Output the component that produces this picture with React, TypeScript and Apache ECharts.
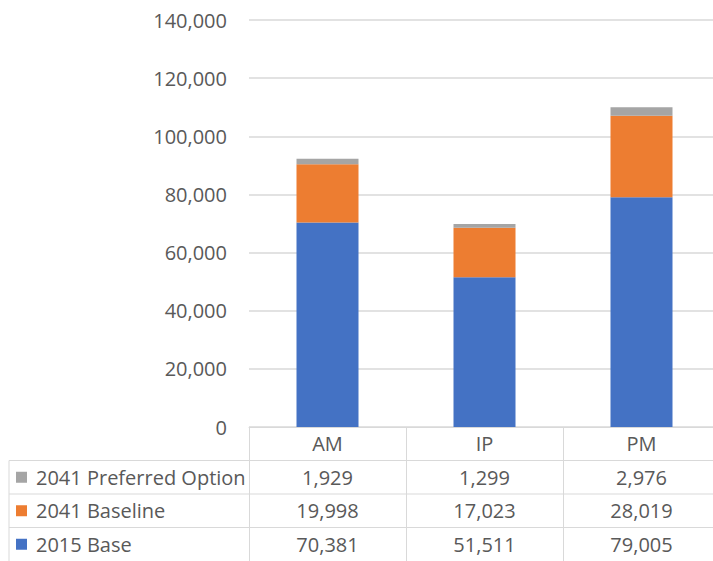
import React, { useEffect, useRef } from "react";
import * as echarts from "echarts";

const categories = ["AM", "IP", "PM"];
const seriesNames = ["2015 Base", "2041 Baseline", "2041 Preferred Option"];
const base2015 = [70381, 51511, 79005];
const baseline2041 = [19998, 17023, 28019];
const preferred2041 = [1929, 1299, 2976];
const seriesColors = ["#4472C4", "#ED7D31", "#A5A5A5"];
const yTicks = [0, 20000, 40000, 60000, 80000, 100000, 120000, 140000];

const FONT = "'Open Sans', sans-serif";
const FS = 20;
const TEXT = "#595959";
const LINE = "#D9D9D9";

const fmt = (v: number) => v.toLocaleString("en-US");

export default function App() {
  const ref = useRef<HTMLDivElement>(null);
  useEffect(() => {
    if (!ref.current) return;
    const chart = echarts.init(ref.current, undefined, { renderer: "svg" });
    const values = [base2015, baseline2041, preferred2041];
    // table rows: top to bottom = reverse order of stacking
    const rowOrder = [2, 1, 0];
    const gridTop = 20;
    const gridBottomY = 427;
    const rowH = 33.5;
    const tableLeft = 9;
    const gridLeft = 249;
    const gridWidth = 471;
    const tableRight = gridLeft + gridWidth;

    const xAxes: any[] = [
      {
        type: "category",
        data: categories,
        position: "bottom",
        axisLine: { show: true, lineStyle: { color: LINE, width: 1 } },
        axisTick: { show: true, length: 134, lineStyle: { color: LINE, width: 1 } },
        axisLabel: {
          color: TEXT,
          fontFamily: FONT,
          fontSize: FS,
          margin: rowH / 2,
          verticalAlign: "middle",
        },
        splitLine: { show: false },
      },
    ];
    rowOrder.forEach((si, r) => {
      xAxes.push({
        type: "category",
        data: categories,
        position: "bottom",
        offset: rowH * (r + 1),
        axisLine: { show: false },
        axisTick: { show: false },
        axisLabel: {
          color: TEXT,
          fontFamily: FONT,
          fontSize: FS,
          margin: rowH / 2,
          verticalAlign: "middle",
          formatter: (_v: string, idx: number) => fmt(values[si][idx]),
        },
      });
    });

    const graphic: any[] = [];
    rowOrder.forEach((si, r) => {
      const y = gridBottomY + rowH * (r + 1);
      graphic.push({
        type: "line",
        shape: { x1: tableLeft, y1: y, x2: tableRight, y2: y },
        style: { stroke: LINE, lineWidth: 1 },
        silent: true,
      });
      const cy = y + rowH / 2;
      graphic.push({
        type: "rect",
        shape: { x: 16, y: cy - 5.5, width: 11, height: 11 },
        style: { fill: seriesColors[si] },
        silent: true,
      });
      graphic.push({
        type: "text",
        x: 36,
        y: cy,
        style: {
          text: seriesNames[si],
          fill: TEXT,
          font: `${FS}px ${FONT}`,
          verticalAlign: "middle",
          align: "left",
        },
        silent: true,
      });
    });
    graphic.push({
      type: "line",
      shape: { x1: tableLeft, y1: gridBottomY + rowH, x2: tableLeft, y2: 561 },
      style: { stroke: LINE, lineWidth: 1 },
      silent: true,
    });

    chart.setOption({
      animation: false,
      backgroundColor: "#FFFFFF",
      grid: {
        left: gridLeft,
        width: gridWidth,
        top: gridTop,
        bottom: 561 - gridBottomY,
        containLabel: false,
        outerBoundsMode: "none",
      },
      xAxis: xAxes,
      yAxis: {
        type: "value",
        min: yTicks[0],
        max: yTicks[yTicks.length - 1],
        interval: yTicks[1] - yTicks[0],
        axisLine: { show: false },
        axisTick: { show: false },
        axisLabel: {
          color: TEXT,
          fontFamily: FONT,
          fontSize: FS,
          margin: 22,
          formatter: (v: number) => fmt(v),
        },
        splitLine: { show: true, lineStyle: { color: LINE, width: 1.5 } },
      },
      series: seriesNames.map((name, i) => ({
        name,
        type: "bar",
        stack: "total",
        barWidth: 62,
        data: values[i],
        itemStyle: { color: seriesColors[i] },
        xAxisIndex: 0,
      })),
      graphic,
    });
    return () => chart.dispose();
  }, []);
  return <div ref={ref} style={{ width: 713, height: 561, position: "absolute", left: 0, top: 0 }} />;
}
